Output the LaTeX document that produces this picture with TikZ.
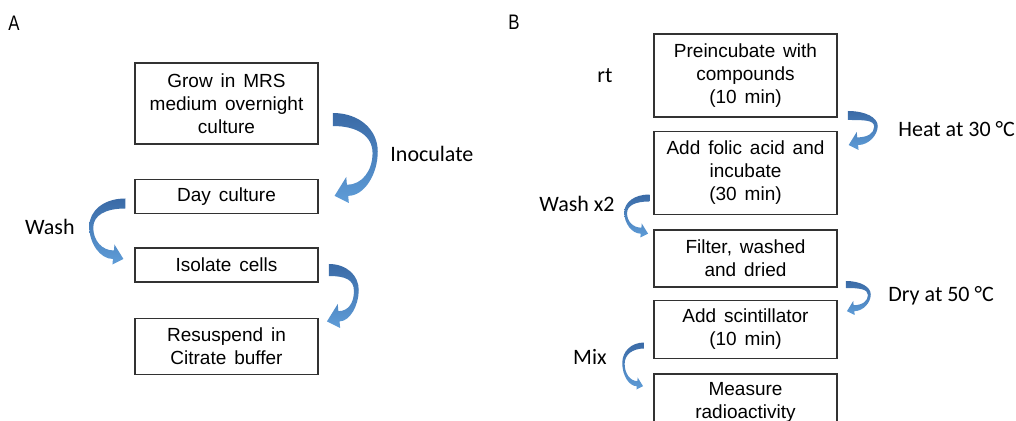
\documentclass[tikz,border=0pt]{standalone}
\usepackage{fontspec}
\setmainfont{Liberation Sans}
\newfontfamily\boxfont[WordSpace=1.5]{Liberation Sans}
\newfontfamily\notefont{Carlito}
\newfontfamily\panelfont[FakeStretch=0.8]{Liberation Sans}
\usepackage{xcolor}
\usetikzlibrary{positioning,calc}
\definecolor{bendtop}{RGB}{58,106,166}
\definecolor{bendbot}{RGB}{95,157,216}
\definecolor{boxline}{RGB}{50,50,50}
\tikzset{
  pics/bendarrow/.style n args={3}{code={
    \shade[top color=bendtop, bottom color=bendbot]
      (0,0) .. controls ({0.6*#1},0) and ({#1},{0.22*#2}) .. ({#1},{0.5*#2})
      .. controls ({#1},{0.8*#2}) and ({0.7*#1},{#2+0.45*#3}) .. ({0.3*#1+0.15*#3},{#2+0.45*#3})
      -- ({0.3*#1+0.2*#3},{#2+#3}) -- ({0.3*#1-0.9*#3},{#2+0.45*#3})
      -- ({0.3*#1},{#2-#3}) -- ({0.3*#1+0.05*#3},{#2-0.4*#3})
      .. controls ({0.65*#1},{#2-0.4*#3}) and ({#1-0.4*#3},{0.75*#2}) .. ({#1-0.4*#3},{0.52*#2})
      .. controls ({#1-0.4*#3},{0.3*#2}) and ({0.55*#1},{#3}) .. (0,{#3}) -- cycle;
  }}
}
\begin{document}
\begin{tikzpicture}[x=0.5pt, y=-0.5pt,
  box/.style={draw=boxline, line width=0.75pt, minimum width=91.5pt, inner sep=0pt, align=center,
    font=\boxfont\fontsize{9.5}{11.5}\selectfont},
  note/.style={inner sep=0pt, font=\notefont\fontsize{11}{13}\selectfont},
  panel/.style={inner sep=0pt, anchor=base west, font=\panelfont\fontsize{10.5}{12}\selectfont}]
\useasboundingbox (0,0) rectangle (1016,421);
\clip (0,0) rectangle (1016,421);
% panel A
\node[panel] (pa) at (8,31) {A};
\node[box, minimum height=40.5pt] (grow) at (226.5,103.5) {Grow in MRS\\medium overnight\\culture};
\node[box, minimum height=17pt, below=17pt of grow] (day) {Day culture};
\node[box, minimum height=17pt, below=16.5pt of day] (iso) {Isolate cells};
\node[box, minimum height=28pt, below=17.5pt of iso] (res) {Resuspend in\\Citrate buffer};
\pic at ($(grow.east)+(14,9.5)$) {bendarrow={45}{77}{13}};
\pic[xscale=-1] at ($(day.west)+(-9,2)$) {bendarrow={36}{56}{10}};
\pic at ($(iso.east)+(10,-1)$) {bendarrow={30}{52}{12}};
\node[note, anchor=base west] (inoc) at (390,162) {Inoculate};
\node[note, anchor=base east] (wash) at (75,235) {Wash};
% panel B
\node[panel] (pb) at (508,30) {B};
\node[box, minimum height=41.5pt] (pre) at (745.5,75.5) {Preincubate with\\compounds\\(10 min)};
\node[box, minimum height=41.5pt, below=6.5pt of pre] (folic) {Add folic acid and\\incubate\\(30 min)};
\node[box, minimum height=28.5pt, below=7pt of folic] (filt) {Filter, washed\\and dried};
\node[box, minimum height=29pt, below=6pt of filt] (scint) {Add scintillator\\(10 min)};
\node[box, minimum height=28.5pt, below=7pt of scint] (meas) {Measure\\radioactivity};
\pic at ($(pre.east)+(10,35.5)$) {bendarrow={30}{30}{9}};
\pic[xscale=-1] at ($(folic.west)+(-4,21.5)$) {bendarrow={25}{36}{7}};
\pic at ($(filt.east)+(8,22.5)$) {bendarrow={25}{27}{7}};
\pic[xscale=-1] at ($(scint.west)+(-9,13)$) {bendarrow={22}{41}{6}};
\node[note, anchor=base west] (rt) at (597,83) {rt};
\node[note, anchor=base west] (heat) at (898,137) {Heat at 30 °C};
\node[note, anchor=base east] (wash2) at (615,212) {Wash x2};
\node[note, anchor=base west] (dry) at (888,302) {Dry at 50 °C};
\node[note, anchor=base east] (mix) at (607,365) {Mix};
\end{tikzpicture}
\end{document}
